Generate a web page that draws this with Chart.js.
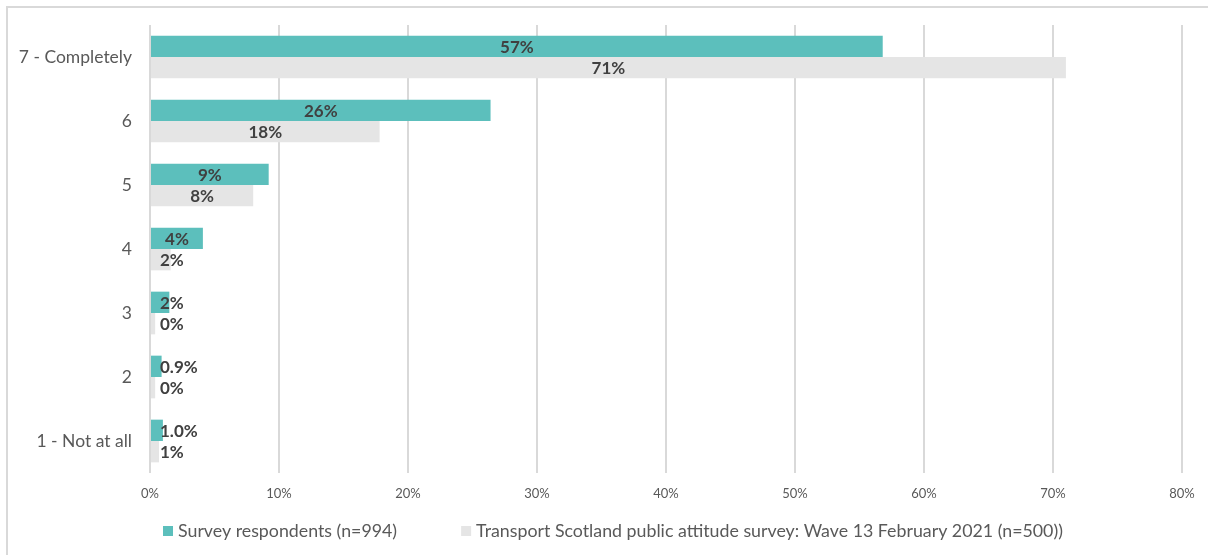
<!DOCTYPE html>
<html>
<head>
<meta charset="utf-8">
<script src="https://cdn.jsdelivr.net/npm/chart.js@4/dist/chart.umd.min.js"></script>
<style>
  html, body { margin: 0; padding: 0; background: #ffffff; overflow: hidden; }
  canvas { display: block; }
</style>
</head>
<body>
<canvas id="chart" width="1208" height="555"></canvas>
<script>
// Rating categories, top to bottom
const categories = ['7 - Completely', '6', '5', '4', '3', '2', '1 - Not at all'];

// Share of respondents (%) per rating
const surveyRespondents = [56.8, 26.4, 9.2, 4.1, 1.5, 0.9, 1.0];
const publicAttitude = [71.0, 17.8, 8.0, 1.6, 0.4, 0.4, 0.7];

// Decimal places shown in each series' value labels
const surveyDecimals = [0, 0, 0, 0, 0, 1, 1];
const publicDecimals = [0, 0, 0, 0, 0, 0, 0];

const seriesNames = [
  'Survey respondents (n=994)',
  'Transport Scotland public attitude survey: Wave 13 February 2021 (n=500))'
];

// Axis range and tick step (%)
const xMax = 80;
const xStep = 10;

const TEAL = '#5CBFBC';
const LIGHT = '#E5E5E5';
const FONT = 'Lato, "Open Sans", sans-serif';

// Light outline along the top and left of the chart
const outline = {
  id: 'outline',
  beforeDraw(chart) {
    const ctx = chart.ctx;
    ctx.save();
    ctx.strokeStyle = '#D9D9D9';
    ctx.lineWidth = 2;
    ctx.beginPath();
    ctx.moveTo(7, chart.height);
    ctx.lineTo(7, 7);
    ctx.lineTo(chart.width, 7);
    ctx.stroke();
    ctx.restore();
  }
};

// Bold value labels, centred on each bar but kept clear of the axis
const valueLabels = {
  id: 'valueLabels',
  afterDatasetsDraw(chart) {
    const ctx = chart.ctx;
    const area = chart.chartArea;
    ctx.save();
    ctx.font = 'bold 17px ' + FONT;
    ctx.fillStyle = '#404040';
    ctx.textBaseline = 'middle';
    ctx.textAlign = 'left';
    chart.data.datasets.forEach((ds, di) => {
      const meta = chart.getDatasetMeta(di);
      meta.data.forEach((bar, i) => {
        const v = ds.data[i];
        const text = v.toFixed(ds.decimals[i]) + '%';
        const w = ctx.measureText(text).width;
        let left = (bar.x + bar.base) / 2 - w / 2;
        if (left < area.left + 10) left = area.left + 10;
        ctx.fillText(text, left, bar.y + 1);
      });
    });
    ctx.restore();
  }
};

// Legend row under the axis
const legendRow = {
  id: 'legendRow',
  afterDraw(chart) {
    const ctx = chart.ctx;
    const area = chart.chartArea;
    ctx.save();
    ctx.font = '17.8px ' + FONT;
    ctx.textBaseline = 'middle';
    ctx.textAlign = 'left';
    const y = 531;
    let x = area.left + 13;
    chart.data.datasets.forEach((ds) => {
      ctx.fillStyle = ds.backgroundColor;
      ctx.fillRect(x, y - 5, 10, 10);
      ctx.fillStyle = '#595959';
      ctx.fillText(ds.label, x + 15, y);
      x += 15 + ctx.measureText(ds.label).width + 64;
    });
    ctx.restore();
  }
};

new Chart(document.getElementById('chart'), {
  type: 'bar',
  data: {
    labels: categories,
    datasets: [
      { label: seriesNames[0], data: surveyRespondents, decimals: surveyDecimals,
        backgroundColor: TEAL, borderWidth: 0 },
      { label: seriesNames[1], data: publicAttitude, decimals: publicDecimals,
        backgroundColor: LIGHT, borderWidth: 0 }
    ]
  },
  options: {
    indexAxis: 'y',
    responsive: false,
    animation: false,
    devicePixelRatio: 1,
    datasets: { bar: { categoryPercentage: 0.667, barPercentage: 1.0 } },
    layout: { padding: { top: 25, right: 26, bottom: 42, left: 0 } },
    plugins: { legend: { display: false }, tooltip: { enabled: false } },
    scales: {
      x: {
        min: 0, max: xMax,
        border: { display: false },
        grid: { color: '#D9D9D9', lineWidth: 2, drawTicks: false },
        ticks: {
          stepSize: xStep, padding: 13, color: '#595959',
          font: { family: FONT, size: 13 },
          callback: v => v + '%'
        },
        afterFit(scale) {
          scale.height = 40;
          scale.paddingLeft = 0;
          scale.paddingRight = 0;
        }
      },
      y: {
        border: { display: false },
        grid: { display: false, drawTicks: false },
        ticks: { padding: 18, color: '#595959', font: { family: FONT, size: 17.5 } },
        afterFit(scale) {
          scale.width = 150;
          scale.paddingTop = 0;
          scale.paddingBottom = 0;
        }
      }
    }
  },
  plugins: [outline, valueLabels, legendRow]
});
</script>
</body>
</html>
